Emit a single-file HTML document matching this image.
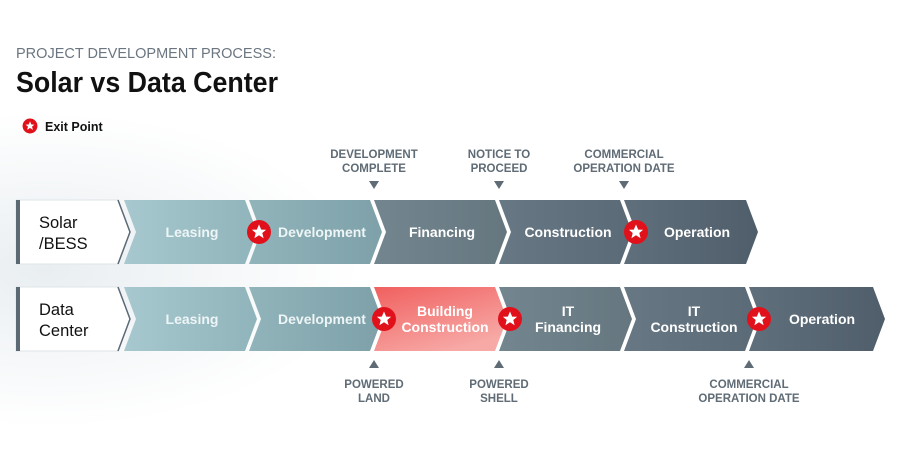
<!DOCTYPE html>
<html><head><meta charset="utf-8"><style>
html,body{margin:0;padding:0;background:#fff;}
svg{display:block;font-family:"Liberation Sans",Arial,sans-serif;}
</style></head><body>
<svg width="900" height="450" viewBox="0 0 900 450" xmlns="http://www.w3.org/2000/svg">
<defs>
<radialGradient id="bg" cx="0.05" cy="0.6" r="0.35">
<stop offset="0" stop-color="#e9eef1"/><stop offset="1" stop-color="#ffffff"/></radialGradient>
<linearGradient id="gL" x1="0" x2="1"><stop offset="0" stop-color="#a6c8ce"/><stop offset="1" stop-color="#90b4bb"/></linearGradient>
<linearGradient id="gD" x1="0" x2="1"><stop offset="0" stop-color="#91b4bb"/><stop offset="1" stop-color="#7ea1a9"/></linearGradient>
<linearGradient id="gF" x1="0" x2="1"><stop offset="0" stop-color="#73868f"/><stop offset="1" stop-color="#65767f"/></linearGradient>
<linearGradient id="gC" x1="0" x2="1"><stop offset="0" stop-color="#677884"/><stop offset="1" stop-color="#5a6a76"/></linearGradient>
<linearGradient id="gO" x1="0" x2="1"><stop offset="0" stop-color="#5f6f7b"/><stop offset="1" stop-color="#4f5e6a"/></linearGradient>
<linearGradient id="gR" x1="0" y1="0" x2="0.6" y2="1"><stop offset="0" stop-color="#f0605f"/><stop offset="1" stop-color="#f7a9a6"/></linearGradient>
<g id="star"><circle r="12" fill="#e0111b"/><polygon fill="#fff" points="0,-7.5 2.2,-2.4 7.1,-2.3 3.3,1 4.6,6.2 0,3.3 -4.6,6.2 -3.3,1 -7.1,-2.3 -2.2,-2.4"/></g>
</defs>
<rect width="900" height="450" fill="url(#bg)"/>
<text x="16" y="58" font-size="15" fill="#6b7680" textLength="260" lengthAdjust="spacingAndGlyphs">PROJECT DEVELOPMENT PROCESS:</text>
<text x="16" y="92" font-size="29" font-weight="bold" fill="#111" textLength="262" lengthAdjust="spacingAndGlyphs">Solar vs Data Center</text>
<use href="#star" transform="translate(30,126) scale(0.62)"/>
<text x="45" y="131" font-size="12.5" font-weight="bold" fill="#111">Exit Point</text>

<g font-size="11.5" font-weight="bold" fill="#5f6b75" text-anchor="middle">
<text x="374" y="158">DEVELOPMENT</text><text x="374" y="172">COMPLETE</text>
<text x="499" y="158">NOTICE TO</text><text x="499" y="172">PROCEED</text>
<text x="624" y="158">COMMERCIAL</text><text x="624" y="172">OPERATION DATE</text>
<text x="374" y="388">POWERED</text><text x="374" y="402">LAND</text>
<text x="499" y="388">POWERED</text><text x="499" y="402">SHELL</text>
<text x="749" y="388">COMMERCIAL</text><text x="749" y="402">OPERATION DATE</text>
</g>
<g fill="#5f6b75">
<polygon points="369,181 379,181 374,189"/><polygon points="494,181 504,181 499,189"/><polygon points="619,181 629,181 624,189"/>
<polygon points="369,368 379,368 374,360"/><polygon points="494,368 504,368 499,360"/><polygon points="744,368 754,368 749,360"/>
</g>

<!-- Row 1 -->
<g>
<polygon points="16,200 118,200 130,232 118,264 16,264" fill="#fff" stroke="#dfe4e7" stroke-width="1"/>
<rect x="16" y="200" width="4" height="64" fill="#5b6975"/>
<polyline points="118,200 130,232 118,264" fill="none" stroke="#5b6975" stroke-width="1.5"/>
<text x="39" y="228" font-size="16.5" fill="#111">Solar</text>
<text x="39" y="249" font-size="16.5" fill="#111">/BESS</text>
<polygon points="124,200 245,200 257,232 245,264 124,264 136,232" fill="url(#gL)"/>
<polygon points="249,200 370,200 382,232 370,264 249,264 261,232" fill="url(#gD)"/>
<polygon points="374,200 495,200 507,232 495,264 374,264 386,232" fill="url(#gF)"/>
<polygon points="499,200 620,200 632,232 620,264 499,264 511,232" fill="url(#gC)"/>
<polygon points="624,200 746,200 758,232 746,264 624,264 636,232" fill="url(#gO)"/>
<g font-size="14" font-weight="bold" fill="#fff" text-anchor="middle">
<text x="192" y="237" fill="#eef5f6">Leasing</text>
<text x="322" y="237" fill="#eef5f6">Development</text>
<text x="442" y="237">Financing</text>
<text x="568" y="237">Construction</text>
<text x="697" y="237">Operation</text>
</g>
<use href="#star" transform="translate(259,232)"/>
<use href="#star" transform="translate(636,232)"/>
</g>

<!-- Row 2 -->
<g>
<polygon points="16,287 118,287 130,319 118,351 16,351" fill="#fff" stroke="#dfe4e7" stroke-width="1"/>
<rect x="16" y="287" width="4" height="64" fill="#5b6975"/>
<polyline points="118,287 130,319 118,351" fill="none" stroke="#5b6975" stroke-width="1.5"/>
<text x="39" y="315" font-size="16.5" fill="#111">Data</text>
<text x="39" y="336" font-size="16.5" fill="#111">Center</text>
<polygon points="124,287 245,287 257,319 245,351 124,351 136,319" fill="url(#gL)"/>
<polygon points="249,287 370,287 382,319 370,351 249,351 261,319" fill="url(#gD)"/>
<polygon points="374,287 495,287 507,319 495,351 374,351 386,319" fill="url(#gR)"/>
<polygon points="499,287 620,287 632,319 620,351 499,351 511,319" fill="url(#gF)"/>
<polygon points="624,287 745,287 757,319 745,351 624,351 636,319" fill="url(#gC)"/>
<polygon points="749,287 873,287 885,319 873,351 749,351 761,319" fill="url(#gO)"/>
<g font-size="14" font-weight="bold" fill="#fff" text-anchor="middle">
<text x="192" y="324" fill="#eef5f6">Leasing</text>
<text x="322" y="324" fill="#eef5f6">Development</text>
<text x="445" y="316">Building</text><text x="445" y="332">Construction</text>
<text x="568" y="316">IT</text><text x="568" y="332">Financing</text>
<text x="694" y="316">IT</text><text x="694" y="332">Construction</text>
<text x="822" y="324">Operation</text>
</g>
<use href="#star" transform="translate(384,319)"/>
<use href="#star" transform="translate(510,319)"/>
<use href="#star" transform="translate(759,319)"/>
</g>
</svg>
</body></html>
